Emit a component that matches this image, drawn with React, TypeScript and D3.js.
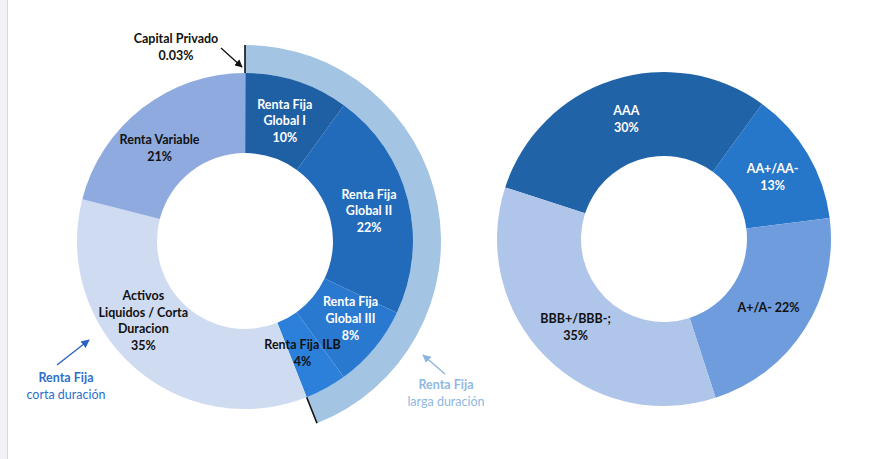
import React from 'react'
import * as d3 from 'd3'

// left donut: asset allocation
const allocNames = ['Capital Privado', 'Renta Fija Global I', 'Renta Fija Global II', 'Renta Fija Global III', 'Renta Fija ILB', 'Activos Liquidos / Corta Duracion', 'Renta Variable']
const allocValues = [0.03, 10, 22, 8, 4, 35, 21]
const allocLines = [
    [],
    ['Renta Fija', 'Global I', '10%'],
    ['Renta Fija', 'Global II', '22%'],
    ['Renta Fija', 'Global III', '8%'],
    ['Renta Fija ILB', '4%'],
    ['Activos', 'Liquidos / Corta', 'Duracion', '35%'],
    ['Renta Variable', '21%'],
]
const allocColors = ['#000000', '#1f5fa4', '#226bba', '#2a79d0', '#2c80da', '#cfdbf1', '#8eaadf']
const allocText = ['#000', '#fff', '#fff', '#fff', '#111', '#111', '#111']
// label nudges (px) off the arc centroid
const allocNudge = [[0, 0], [0, 3], [0, 3], [7, -3], [-4, 1], [-17, -15], [-7, 10]]

// right donut: credit rating
const ratingNames = ['AAA', 'AA+/AA-', 'A+/A-', 'BBB+/BBB-;']
const ratingValues = [30, 13, 22, 35]
const ratingLines = [['AAA', '30%'], ['AA+/AA-', '13%'], ['A+/A- 22%'], ['BBB+/BBB-;', '35%']]
const ratingColors = ['#2063a7', '#2677c9', '#6e9cdc', '#b0c5ea']
const ratingText = ['#fff', '#fff', '#111', '#111']
const ratingNudge = [[1, 0], [1, 3], [-1, 3], [0, 1]]

const FONT = 'Lato, "Open Sans", sans-serif'

function Label({x, y, lines, color, size = 12.5, weight = 'bold'}) {
    const lh = 16.8
    const y0 = y - (lines.length - 1) * lh / 2
    return <text x={x} y={y0} fill={color} fontSize={size} fontWeight={weight} fontFamily={FONT}
                 textAnchor="middle" dominantBaseline="middle">
        {lines.map((l, i) => <tspan key={i} x={x} y={y0 + i * lh}>{l}</tspan>)}
    </text>
}

export default function App() {
    const W = 871, H = 459

    // left geometry
    const lcx = 245, lcy = 241
    const lri = 88, lro = 168, lOuter = 196
    const leftPie = d3.pie<number>().sort(null).startAngle(0).endAngle(2 * Math.PI)(allocValues)
    const leftArc = d3.arc<any>().innerRadius(lri).outerRadius(lro)
    const leftLabelArc = d3.arc<any>().innerRadius(128).outerRadius(128)

    // long-duration ring spans Global I .. ILB
    const ringStart = leftPie[0].startAngle
    const ringEnd = leftPie[4].endAngle
    const ringPath = d3.arc()({innerRadius: lro, outerRadius: lOuter, startAngle: ringStart, endAngle: ringEnd})
    const tick = (a) => {
        const s = Math.sin(a), c = -Math.cos(a)
        return {x1: lro * s, y1: lro * c, x2: lOuter * s, y2: lOuter * c}
    }
    const t0 = tick(ringStart), t1 = tick(ringEnd)

    // right geometry
    const rcx = 664, rcy = 239
    const rri = 83, rro = 167
    const rightPie = d3.pie<number>().sort(null).startAngle(-0.4 * Math.PI).endAngle(1.6 * Math.PI)(ratingValues)
    const rightArc = d3.arc<any>().innerRadius(rri).outerRadius(rro)
    const rightLabelArc = d3.arc<any>().innerRadius(125).outerRadius(125)

    return (
        <svg width={W} height={H} style={{position: 'absolute', left: 0, top: 0}}>
            <defs>
                <marker id="ahK" viewBox="0 0 10 10" refX="9" refY="5" markerWidth="6" markerHeight="6" orient="auto">
                    <path d="M0,0 L10,5 L0,10 z" fill="#111"/>
                </marker>
                <marker id="ahB" viewBox="0 0 10 10" refX="9" refY="5" markerWidth="6" markerHeight="6" orient="auto">
                    <path d="M0,0 L10,5 L0,10 z" fill="#2a62c4"/>
                </marker>
                <marker id="ahL" viewBox="0 0 10 10" refX="9" refY="5" markerWidth="6" markerHeight="6" orient="auto">
                    <path d="M0,0 L10,5 L0,10 z" fill="#8db4dc"/>
                </marker>
            </defs>
            <rect x={0} y={0} width={W} height={H} fill="#fff"/>
            <rect x={0} y={0} width={7} height={H} fill="#f0f2f6"/>
            <line x1={7.5} y1={0} x2={7.5} y2={H} stroke="#d3d7df" strokeWidth={1}/>

            <g transform={`translate(${lcx},${lcy})`}>
                <path d={ringPath} fill="#a3c4e3"/>
                {leftPie.map((d, i) => i === 0 ? null :
                    <path key={i} d={leftArc(d)} fill={allocColors[i]}/>)}
                <line {...t0} stroke="#111" strokeWidth={1.6}/>
                <line {...t1} stroke="#111" strokeWidth={1.6}/>
                {leftPie.map((d, i) => {
                    if (i === 0) return null
                    const [x, y] = leftLabelArc.centroid(d)
                    return <Label key={i} x={x + allocNudge[i][0]} y={y + allocNudge[i][1]}
                                  lines={allocLines[i]} color={allocText[i]}/>
                })}
            </g>

            {/* Capital Privado callout */}
            <Label x={176} y={48.5} lines={['Capital Privado', '0.03%']} color="#111"/>
            <line x1={221} y1={48} x2={242} y2={67} stroke="#111" strokeWidth={1.3} markerEnd="url(#ahK)"/>

            {/* short duration callout */}
            <line x1={57} y1={365} x2={89} y2={340} stroke="#2a62c4" strokeWidth={1.4} markerEnd="url(#ahB)"/>
            <text x={66} y={379} fill="#2e6fcc" fontSize={12.5} fontWeight="bold" fontFamily={FONT}
                  textAnchor="middle" dominantBaseline="middle">Renta Fija</text>
            <text x={66} y={396} fill="#2e6fcc" fontSize={12.5} fontFamily={FONT}
                  textAnchor="middle" dominantBaseline="middle">corta duración</text>

            {/* long duration callout */}
            <line x1={445} y1={374} x2={423} y2={355} stroke="#8db4dc" strokeWidth={1.4} markerEnd="url(#ahL)"/>
            <text x={446} y={386} fill="#8fb8e0" fontSize={12.5} fontWeight="bold" fontFamily={FONT}
                  textAnchor="middle" dominantBaseline="middle">Renta Fija</text>
            <text x={446} y={403} fill="#8fb8e0" fontSize={12.5} fontFamily={FONT}
                  textAnchor="middle" dominantBaseline="middle">larga duración</text>

            <g transform={`translate(${rcx},${rcy})`}>
                {rightPie.map((d, i) =>
                    <path key={i} d={rightArc(d)} fill={ratingColors[i]}/>)}
                {rightPie.map((d, i) => {
                    const [x, y] = rightLabelArc.centroid(d)
                    return <Label key={i} x={x + ratingNudge[i][0]} y={y + ratingNudge[i][1]}
                                  lines={ratingLines[i]} color={ratingText[i]}/>
                })}
            </g>
        </svg>
    )
}
